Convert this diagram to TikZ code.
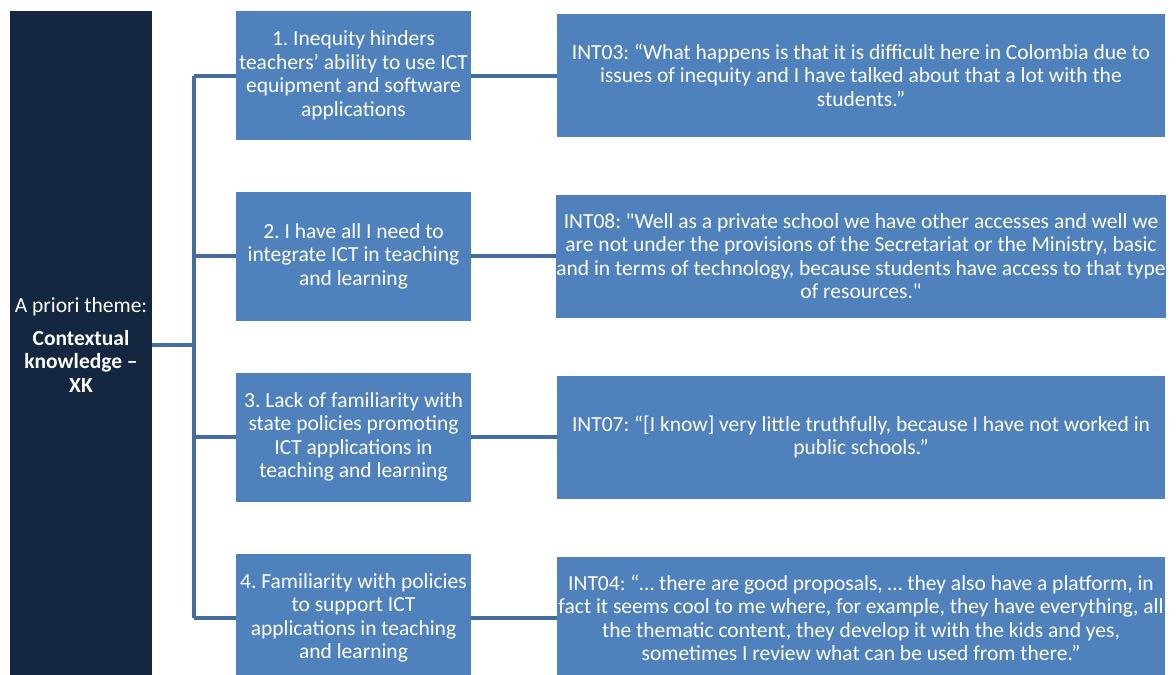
\documentclass[tikz,border=0pt]{standalone}
\usepackage{fontspec}
\setmainfont{Carlito}[Ligatures=TeXOff]
\definecolor{boxblue}{RGB}{79,129,189}
\definecolor{navy}{RGB}{20,38,64}
\definecolor{linkblue}{RGB}{68,108,158}
\frenchspacing
\begin{document}
\begin{tikzpicture}[x=1pt,y=-1pt,
  every node/.style={font=\fontsize{21.5}{23.5}\selectfont, text=white, inner sep=0pt, align=center},
  theme/.style={fill=navy, minimum width=142pt, minimum height=668pt},
  topic/.style={fill=boxblue, minimum width=235pt, minimum height=129pt},
  quote/.style={fill=boxblue, minimum width=608pt, minimum height=123pt},
  link/.style={draw=linkblue, line width=4pt, line join=miter}]
\useasboundingbox (0,0) rectangle (1176,675);

% a priori theme
\node[theme] (xk) at (81,345) {A priori theme:\\[9.5pt]\textbf{Contextual}\\\textbf{knowledge –}\\\textbf{XK}};

% sub-themes
\node[topic] (t1) at (353.5,75.5) {1. Inequity hinders\\teachers’ ability to use ICT\\equipment and software\\applications};
\node[topic] (t2) at (353.5,256) {2. I have all I need to\\integrate ICT in teaching\\and learning};
\node[topic] (t3) at (353.5,437) {3. Lack of familiarity with\\state policies promoting\\ICT applications in\\teaching and learning};
\node[topic] (t4) at (353.5,618) {4. Familiarity with policies\\to support ICT\\applications in teaching\\and learning};

% interview excerpts
\node[quote] (q1) at (861,75) {INT03: “What happens is that it is difficult here in Colombia due to\\issues of inequity and I have talked about that a lot with the\\students.”};
\node[quote] (q2) at (861,256) {INT08: "Well as a private school we have other accesses and well we\\are not under the provisions of the Secretariat or the Ministry, basic\\and in terms of technology, because students have access to that type\\of resources."};
\node[quote] (q3) at (861,437) {INT07: “[I know] very little truthfully, because I have not worked in\\public schools.”};
\node[quote] (q4) at (861,618) {INT04: “… there are good proposals, … they also have a platform, in\\fact it seems cool to me where, for example, they have everything, all\\the thematic content, they develop it with the kids and yes,\\sometimes I review what can be used from there.”};

% tree connectors
\coordinate (trunk) at (194,345);
\draw[link] (xk.east |- trunk) -- (trunk);
\draw[link] (t1.west -| trunk) -- (t4.west -| trunk);
\foreach \i in {1,...,4} {
  \draw[link] (t\i.west -| trunk) -- (t\i.west);
  \draw[link] (t\i.east) -- (t\i.east -| q\i.west);
}
\end{tikzpicture}
\end{document}
